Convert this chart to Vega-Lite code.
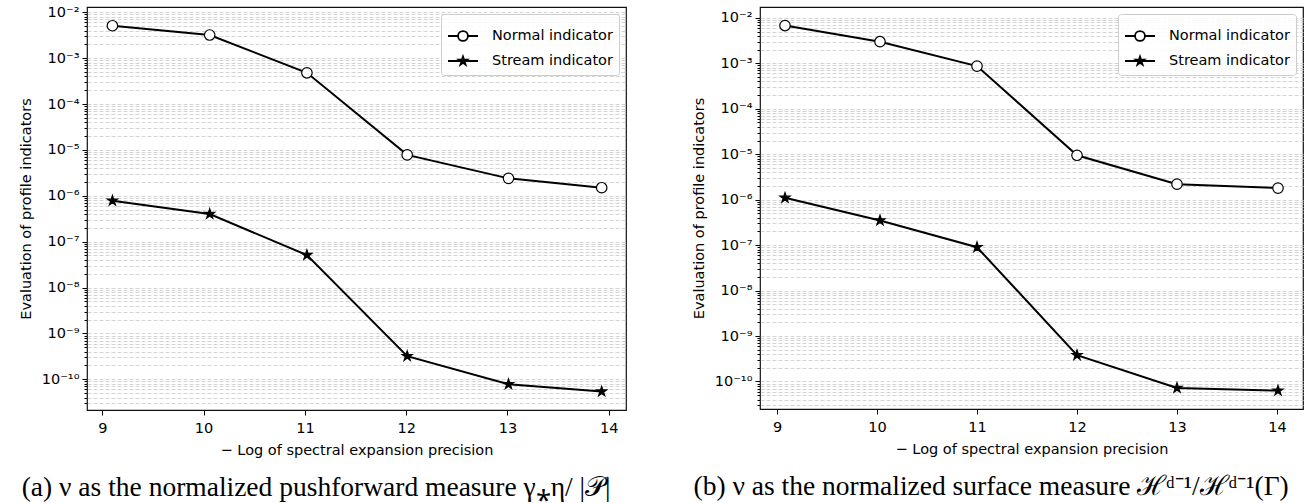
{
  "$schema": "https://vega.github.io/schema/vega-lite/v6.json",
  "padding": {"left": 17, "top": 3, "right": 5, "bottom": 0},
  "spacing": 63,
  "hconcat": [
    {
      "width": 539,
      "height": 403,
      "data": {"values": [
        {"series": "Normal indicator", "x": 9.10, "y": 5.1e-3},
        {"series": "Normal indicator", "x": 10.06, "y": 3.2e-3},
        {"series": "Normal indicator", "x": 11.02, "y": 4.8e-4},
        {"series": "Normal indicator", "x": 12.01, "y": 7.8e-6},
        {"series": "Normal indicator", "x": 13.01, "y": 2.4e-6},
        {"series": "Normal indicator", "x": 13.93, "y": 1.5e-6},
        {"series": "Stream indicator", "x": 9.10, "y": 7.8e-7},
        {"series": "Stream indicator", "x": 10.06, "y": 4.0e-7},
        {"series": "Stream indicator", "x": 11.02, "y": 5.1e-8},
        {"series": "Stream indicator", "x": 12.01, "y": 3.2e-10},
        {"series": "Stream indicator", "x": 13.01, "y": 7.8e-11},
        {"series": "Stream indicator", "x": 13.93, "y": 5.4e-11}
      ]},
      "title": {"text": "(a) ν as the normalized pushforward measure γ⁎η/ |𝒫|"},
      "encoding": {
        "x": {"field": "x", "type": "quantitative",
          "scale": {"domain": [8.849, 14.17], "nice": false, "zero": false},
          "axis": {"title": "− Log of spectral expansion precision", "values": [9, 10, 11, 12, 13, 14], "grid": false, "tickSize": 5, "labelPadding": 6, "titlePadding": 9}},
        "y": {"field": "y", "type": "quantitative",
          "scale": {"type": "log", "domain": [2.14e-11, 1.306e-2], "nice": false},
          "axis": {"title": "Evaluation of profile indicators",
            "values": [3e-11,4e-11,5e-11,6e-11,7e-11,8e-11,9e-11,1e-10,2e-10,3e-10,4e-10,5e-10,6e-10,7e-10,8e-10,9e-10,1e-9,2e-9,3e-9,4e-9,5e-9,6e-9,7e-9,8e-9,9e-9,1e-8,2e-8,3e-8,4e-8,5e-8,6e-8,7e-8,8e-8,9e-8,1e-7,2e-7,3e-7,4e-7,5e-7,6e-7,7e-7,8e-7,9e-7,1e-6,2e-6,3e-6,4e-6,5e-6,6e-6,7e-6,8e-6,9e-6,1e-5,2e-5,3e-5,4e-5,5e-5,6e-5,7e-5,8e-5,9e-5,1e-4,2e-4,3e-4,4e-4,5e-4,6e-4,7e-4,8e-4,9e-4,1e-3,2e-3,3e-3,4e-3,5e-3,6e-3,7e-3,8e-3,9e-3,1e-2],
            "labelExpr": "abs(log(datum.value)/LN10 - round(log(datum.value)/LN10)) < 0.01 ? '10⁻' + (round(-log(datum.value)/LN10) >= 10 ? '¹⁰' : substring('⁰¹²³⁴⁵⁶⁷⁸⁹', round(-log(datum.value)/LN10), round(-log(datum.value)/LN10) + 1)) : ''",
            "tickSize": {"condition": {"test": "abs(log(datum.value)/LN10 - round(log(datum.value)/LN10)) < 0.01", "value": 5}, "value": 3},
            "grid": true, "gridDash": [4, 2], "gridColor": "#d4d4d4", "gridWidth": 1,
            "labelPadding": 3, "titlePadding": 8, "labelOverlap": false, "labelFlush": false}}
      },
      "layer": [
        {"mark": {"type": "line", "color": "black", "strokeWidth": 2},
         "encoding": {"detail": {"field": "series"}}},
        {"mark": {"type": "point", "filled": true, "stroke": "black", "strokeWidth": 1.2, "opacity": 1, "size": 110},
         "encoding": {
           "shape": {"field": "series", "type": "nominal", "scale": {"domain": ["Normal indicator", "Stream indicator"], "range": ["circle", "M0,-1L-0.225,-0.309L-0.951,-0.309L-0.363,0.118L-0.588,0.809L0,0.382L0.588,0.809L0.363,0.118L0.951,-0.309L0.225,-0.309Z"]}, "legend": null},
           "fill": {"field": "series", "type": "nominal", "scale": {"domain": ["Normal indicator", "Stream indicator"], "range": ["white", "black"]}, "legend": null}
         }},
        {"mark": {"type": "point", "opacity": 0},
         "encoding": {
           "shape": {"field": "series", "type": "nominal",
             "scale": {"domain": ["Normal indicator", "Stream indicator"], "range": ["M-1,0H-0.33M0.33,0H1M0.33,0A0.33,0.33 0 1 1 -0.33,0A0.33,0.33 0 1 1 0.33,0Z", "M-1,0H1M0,-0.29L-0.066,-0.09L-0.276,-0.09L-0.105,0.034L-0.17,0.235L0,0.111L0.17,0.235L0.105,0.034L0.276,-0.09L0.066,-0.09Z"]},
             "legend": {"title": null, "orient": "top-right", "offset": 7, "symbolSize": 900, "symbolStrokeWidth": 1.8, "symbolStrokeColor": "black", "symbolOpacity": 1, "labelFontSize": 14.5, "labelOffset": 13, "padding": 6, "rowPadding": -6, "fillColor": "rgba(255,255,255,0.85)", "strokeColor": "#cccccc", "cornerRadius": 3,
               "encode": {"symbols": {"update": {"fill": {"signal": "datum.value === 'Normal indicator' ? 'white' : 'black'"}, "opacity": {"value": 1}, "stroke": {"value": "black"}, "strokeWidth": {"value": 1.8}}}}}}
         }}
      ],
      "resolve": {"scale": {"shape": "independent"}}
    },
    {
      "width": 543,
      "height": 402,
      "data": {"values": [
        {"series": "Normal indicator", "x": 9.08, "y": 6.8e-3},
        {"series": "Normal indicator", "x": 10.03, "y": 3.0e-3},
        {"series": "Normal indicator", "x": 11.0, "y": 8.7e-4},
        {"series": "Normal indicator", "x": 12.0, "y": 9.5e-6},
        {"series": "Normal indicator", "x": 13.0, "y": 2.2e-6},
        {"series": "Normal indicator", "x": 14.01, "y": 1.8e-6},
        {"series": "Stream indicator", "x": 9.08, "y": 1.1e-6},
        {"series": "Stream indicator", "x": 10.03, "y": 3.5e-7},
        {"series": "Stream indicator", "x": 11.0, "y": 9.0e-8},
        {"series": "Stream indicator", "x": 12.0, "y": 3.8e-10},
        {"series": "Stream indicator", "x": 13.0, "y": 7.2e-11},
        {"series": "Stream indicator", "x": 14.01, "y": 6.3e-11}
      ]},
      "title": {"text": "(b) ν as the normalized surface measure ℋᵈ⁻¹/ℋᵈ⁻¹(Γ)"},
      "encoding": {
        "x": {"field": "x", "type": "quantitative",
          "scale": {"domain": [8.83, 14.26], "nice": false, "zero": false},
          "axis": {"title": "− Log of spectral expansion precision", "values": [9, 10, 11, 12, 13, 14], "grid": false, "tickSize": 5, "labelPadding": 6, "titlePadding": 9}},
        "y": {"field": "y", "type": "quantitative",
          "scale": {"type": "log", "domain": [2.48e-11, 1.74e-2], "nice": false},
          "axis": {"title": "Evaluation of profile indicators",
            "values": [3e-11,4e-11,5e-11,6e-11,7e-11,8e-11,9e-11,1e-10,2e-10,3e-10,4e-10,5e-10,6e-10,7e-10,8e-10,9e-10,1e-9,2e-9,3e-9,4e-9,5e-9,6e-9,7e-9,8e-9,9e-9,1e-8,2e-8,3e-8,4e-8,5e-8,6e-8,7e-8,8e-8,9e-8,1e-7,2e-7,3e-7,4e-7,5e-7,6e-7,7e-7,8e-7,9e-7,1e-6,2e-6,3e-6,4e-6,5e-6,6e-6,7e-6,8e-6,9e-6,1e-5,2e-5,3e-5,4e-5,5e-5,6e-5,7e-5,8e-5,9e-5,1e-4,2e-4,3e-4,4e-4,5e-4,6e-4,7e-4,8e-4,9e-4,1e-3,2e-3,3e-3,4e-3,5e-3,6e-3,7e-3,8e-3,9e-3,1e-2],
            "labelExpr": "abs(log(datum.value)/LN10 - round(log(datum.value)/LN10)) < 0.01 ? '10⁻' + (round(-log(datum.value)/LN10) >= 10 ? '¹⁰' : substring('⁰¹²³⁴⁵⁶⁷⁸⁹', round(-log(datum.value)/LN10), round(-log(datum.value)/LN10) + 1)) : ''",
            "tickSize": {"condition": {"test": "abs(log(datum.value)/LN10 - round(log(datum.value)/LN10)) < 0.01", "value": 5}, "value": 3},
            "grid": true, "gridDash": [4, 2], "gridColor": "#d4d4d4", "gridWidth": 1,
            "labelPadding": 3, "titlePadding": 8, "labelOverlap": false, "labelFlush": false}}
      },
      "layer": [
        {"mark": {"type": "line", "color": "black", "strokeWidth": 2},
         "encoding": {"detail": {"field": "series"}}},
        {"mark": {"type": "point", "filled": true, "stroke": "black", "strokeWidth": 1.2, "opacity": 1, "size": 110},
         "encoding": {
           "shape": {"field": "series", "type": "nominal", "scale": {"domain": ["Normal indicator", "Stream indicator"], "range": ["circle", "M0,-1L-0.225,-0.309L-0.951,-0.309L-0.363,0.118L-0.588,0.809L0,0.382L0.588,0.809L0.363,0.118L0.951,-0.309L0.225,-0.309Z"]}, "legend": null},
           "fill": {"field": "series", "type": "nominal", "scale": {"domain": ["Normal indicator", "Stream indicator"], "range": ["white", "black"]}, "legend": null}
         }},
        {"mark": {"type": "point", "opacity": 0},
         "encoding": {
           "shape": {"field": "series", "type": "nominal",
             "scale": {"domain": ["Normal indicator", "Stream indicator"], "range": ["M-1,0H-0.33M0.33,0H1M0.33,0A0.33,0.33 0 1 1 -0.33,0A0.33,0.33 0 1 1 0.33,0Z", "M-1,0H1M0,-0.29L-0.066,-0.09L-0.276,-0.09L-0.105,0.034L-0.17,0.235L0,0.111L0.17,0.235L0.105,0.034L0.276,-0.09L0.066,-0.09Z"]},
             "legend": {"title": null, "orient": "top-right", "offset": 7, "symbolSize": 900, "symbolStrokeWidth": 1.8, "symbolStrokeColor": "black", "symbolOpacity": 1, "labelFontSize": 14.5, "labelOffset": 13, "padding": 6, "rowPadding": -6, "fillColor": "rgba(255,255,255,0.85)", "strokeColor": "#cccccc", "cornerRadius": 3,
               "encode": {"symbols": {"update": {"fill": {"signal": "datum.value === 'Normal indicator' ? 'white' : 'black'"}, "opacity": {"value": 1}, "stroke": {"value": "black"}, "strokeWidth": {"value": 1.8}}}}}}
         }}
      ],
      "resolve": {"scale": {"shape": "independent"}}
    }
  ],
  "config": {
    "font": "DejaVu Sans",
    "view": {"stroke": "#111111", "strokeWidth": 1.2},
    "axis": {"domain": false, "labelFontSize": 14.5, "titleFontSize": 14.5, "titleFontWeight": "normal", "labelColor": "black", "titleColor": "black", "tickColor": "black", "tickWidth": 1, "labelFont": "DejaVu Sans", "titleFont": "DejaVu Sans"},
    "legend": {"labelFont": "DejaVu Sans", "labelColor": "black"},
    "title": {"font": "Liberation Serif", "fontSize": 27.5, "fontWeight": "normal", "color": "black", "orient": "bottom", "anchor": "middle", "frame": "bounds", "dx": -6, "offset": 17}
  }
}
